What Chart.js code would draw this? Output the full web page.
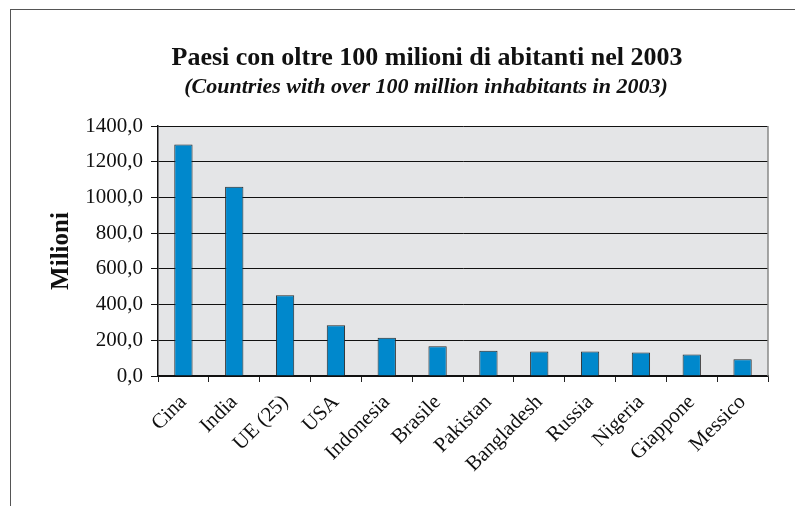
<!DOCTYPE html>
<html>
<head>
<meta charset="utf-8">
<script src="https://cdn.jsdelivr.net/npm/chart.js@4"></script>
<style>
  html, body { margin: 0; padding: 0; background: #fff; }
  #wrap { position: relative; width: 795px; height: 506px; overflow: hidden; }
  #frame { position: absolute; left: 10px; top: 9px; width: 900px; height: 600px; border: 1.5px solid #555; }
  canvas { position: absolute; left: 0; top: 0; }
</style>
</head>
<body>
<div id="wrap">
  <div id="frame"></div>
  <canvas id="chart" width="795" height="506"></canvas>
</div>
<script>
const countries = ['Cina', 'India', 'UE (25)', 'USA', 'Indonesia', 'Brasile', 'Pakistan',
    'Bangladesh', 'Russia', 'Nigeria', 'Giappone', 'Messico'];
const population = [1297, 1060, 452, 284, 214, 167, 141, 137, 137, 131, 120, 94];
const yTicks = [0, 200, 400, 600, 800, 1000, 1200, 1400];

const titleText = 'Paesi con oltre 100 milioni di abitanti nel 2003';
const subtitleText = '(Countries with over 100 million inhabitants in 2003)';
const serif = '"Liberation Serif", "DejaVu Serif", serif';

// plot background, right border and the two header lines
const plotDecor = {
    id: 'plotDecor',
    beforeDraw(chart) {
        const { ctx, chartArea: a } = chart;
        ctx.save();
        ctx.fillStyle = '#e4e5e7';
        ctx.fillRect(a.left, a.top, a.right - a.left, a.bottom - a.top);
        ctx.restore();
    },
    afterDraw(chart) {
        const { ctx, chartArea: a } = chart;
        ctx.save();
        ctx.strokeStyle = '#888';
        ctx.lineWidth = 1.5;
        ctx.beginPath();
        ctx.moveTo(a.right, a.top);
        ctx.lineTo(a.right, a.bottom);
        ctx.stroke();

        ctx.fillStyle = '#111';
        ctx.textAlign = 'center';
        ctx.textBaseline = 'alphabetic';
        ctx.font = 'bold 26px ' + serif;
        ctx.fillText(titleText, 427, 65);
        ctx.font = 'italic bold 22px ' + serif;
        ctx.fillText(subtitleText, 426, 93);
        ctx.restore();
    }
};

new Chart(document.getElementById('chart'), {
    type: 'bar',
    data: {
        labels: countries,
        datasets: [{
            data: population,
            backgroundColor: '#0088cc',
            borderColor: '#2a2a2a',
            borderWidth: 1,
            barPercentage: 0.72,
            categoryPercentage: 0.5
        }]
    },
    options: {
        responsive: false,
        animation: false,
        devicePixelRatio: 1,
        layout: { autoPadding: false, padding: { top: 126, right: 27, bottom: 0, left: 0 } },
        plugins: {
            legend: { display: false },
            tooltip: { enabled: false }
        },
        scales: {
            x: {
                offset: true,
                afterFit: (s) => { s.height = 130; },
                grid: { offset: true, drawOnChartArea: false, tickLength: 6, color: '#222', lineWidth: 1 },
                border: { color: '#111', width: 1.5 },
                ticks: {
                    minRotation: 45, maxRotation: 45, padding: 8,
                    color: '#111',
                    font: { family: serif, size: 21 }
                }
            },
            y: {
                min: 0, max: 1400,
                afterFit: (s) => { s.width = 158; },
                afterBuildTicks: (s) => { s.ticks = yTicks.map(v => ({ value: v })); },
                grid: { color: '#111', lineWidth: 1, tickLength: 7 },
                border: { color: '#111', width: 1.5 },
                ticks: {
                    padding: 8,
                    color: '#111',
                    font: { family: serif, size: 21 },
                    callback: (v) => v.toFixed(1).replace('.', ',')
                },
                title: {
                    display: true,
                    text: 'Milioni',
                    color: '#111',
                    font: { family: serif, size: 25, weight: 'bold' },
                    padding: { top: 47, bottom: 0 }
                }
            }
        }
    },
    plugins: [plotDecor]
});
</script>
</body>
</html>
